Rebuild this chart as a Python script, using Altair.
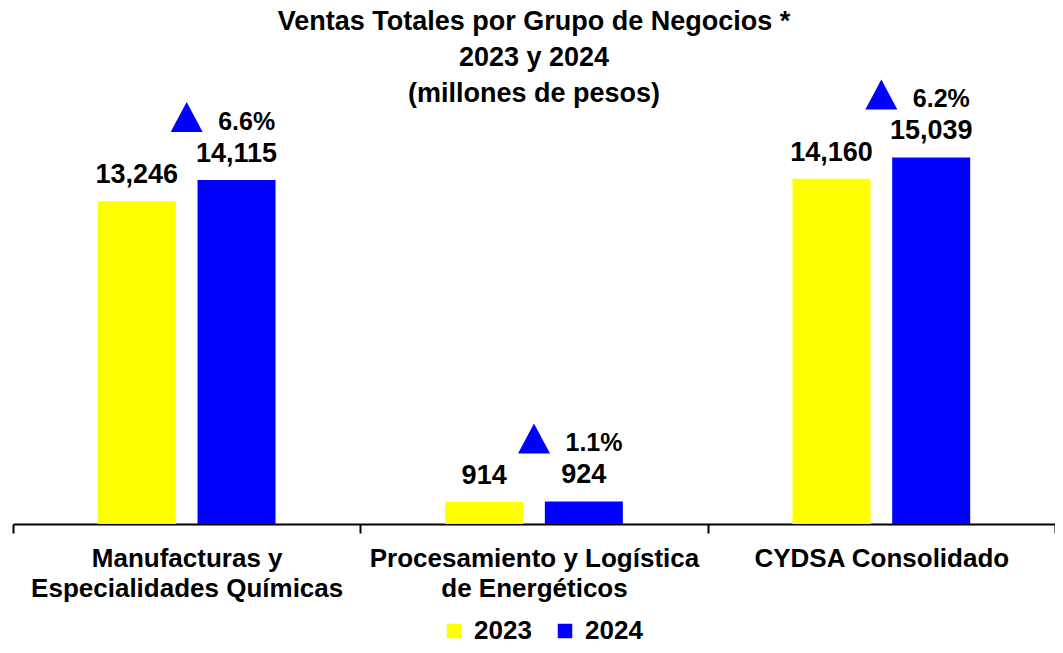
import altair as alt
import pandas as pd

groups = ["Manufacturas y|Especialidades Químicas",
          "Procesamiento y Logística|de Energéticos",
          "CYDSA Consolidado"]
years = ["2023", "2024"]
v2023 = [13246, 914, 14160]
v2024 = [14115, 924, 15039]
pct = ["6.6%", "1.1%", "6.2%"]

rows = []
for g, a, b in zip(groups, v2023, v2024):
    rows.append({"grupo": g, "anio": "2023", "valor": a})
    rows.append({"grupo": g, "anio": "2024", "valor": b})
df = pd.DataFrame(rows)
df["etiqueta"] = df["valor"].map(lambda v: f"{v:,}")

dfp = pd.DataFrame({"grupo": groups, "valor": v2024, "pct": pct})

FONT = "Liberation Sans"

x = alt.X("grupo:N", sort=groups, title=None,
          scale=alt.Scale(paddingInner=0, paddingOuter=0),
          axis=alt.Axis(labelExpr="split(datum.label, '|')", labelAngle=0,
                        labelFontSize=26, labelFont=FONT, labelFontWeight="bold",
                        labelColor="black", labelLineHeight=30, labelPadding=12,
                        labelLimit=500,
                        tickBand="extent", tickSize=9, tickColor="black", tickWidth=2,
                        domainColor="black", domainWidth=2, grid=False))
xo = alt.XOffset("anio:N", sort=years,
                 scale=alt.Scale(paddingInner=0.216, paddingOuter=0.85))
y = alt.Y("valor:Q", title=None, axis=None,
          scale=alt.Scale(domain=[0, 16000], nice=False))
color = alt.Color("anio:N", sort=years, title=None,
                  scale=alt.Scale(domain=years, range=["#FFFF00", "#0000FF"]),
                  legend=alt.Legend(orient="none", legendX=428, legendY=484,
                                    direction="horizontal",
                                    symbolType="square", symbolSize=210,
                                    symbolStrokeWidth=0, labelFontSize=26,
                                    labelFont=FONT, labelFontWeight="bold",
                                    labelColor="black", labelOffset=7,
                                    columnPadding=20, padding=0))

base = alt.Chart(df)
bars = base.mark_bar(size=78).encode(x=x, xOffset=xo, y=y, color=color)
labels = base.mark_text(dy=-18, baseline="alphabetic", fontSize=27,
                        font=FONT, fontWeight="bold", color="black").encode(
    x=x, xOffset=xo, y=y, text="etiqueta:N")

tri = alt.Chart(dfp).mark_point(shape="M0,-0.94L-1,0.94L1,0.94Z", filled=True,
                                size=1024, color="#0000FF", opacity=1).encode(
    x=alt.X("grupo:N", sort=groups), y="valor:Q", yOffset=alt.value(-63))
ptxt = alt.Chart(dfp).mark_text(dx=60, dy=-50, baseline="alphabetic", fontSize=25,
                                font=FONT, fontWeight="bold", color="black").encode(
    x=alt.X("grupo:N", sort=groups), y="valor:Q", text="pct:N")

chart = alt.layer(bars, labels, tri, ptxt).properties(
    width=1042, height=390,
    title=alt.TitleParams(
        text=["Ventas Totales por Grupo de Negocios *", "2023 y 2024",
              "(millones de pesos)"],
        fontSize=27, font=FONT, fontWeight="bold", color="black",
        lineHeight=36, anchor="middle", offset=-29),
    padding={"left": 5, "top": 126, "right": 0, "bottom": 121},
    autosize=alt.AutoSizeParams(type="none"),
).configure(font=FONT).configure_view(strokeWidth=0, stroke="transparent")

chart.save("out.html", embed_options={"renderer": "svg", "actions": False})
